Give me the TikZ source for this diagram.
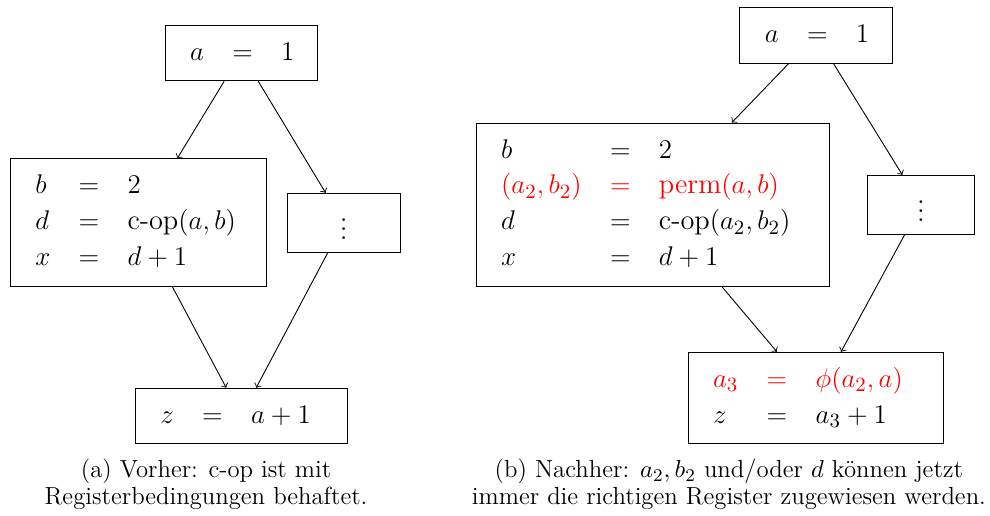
\documentclass[tikz,border=0pt]{standalone}
\usepackage{amsmath}
\usepackage{tikz}
\usetikzlibrary{positioning}
\setlength{\arraycolsep}{6.3pt}

\begin{document}
\begin{tikzpicture}[
    blk/.style={draw, align=left, inner xsep=4.8pt, inner ysep=4.35pt,
                font=\fontsize{12.6}{16}\selectfont},
    dotblk/.style={draw, minimum height=0.92cm,
                font=\fontsize{12.6}{16}\selectfont},
    flow/.style={->},
    captxt/.style={align=center, font=\fontsize{11}{12}\selectfont}
  ]
  \useasboundingbox (0,0) rectangle (15.47,-8.05);

  % (a) vorher
  \node[blk, text width=2.04cm] (a1) at (3.77,-0.83)
    {$\begin{array}{lcl} a & = & 1 \end{array}$};
  \node[blk, text width=3.66cm] (b1) at (2.16,-3.48) {$\begin{array}{lcl}
      b & = & 2\\
      d & = & \text{c-op}(a,b)\\
      x & = & d+1 \end{array}$};
  \node[dotblk, minimum width=1.77cm] (v1) at (5.37,-3.48) {$\vdots$};
  \node[blk, text width=2.97cm] (z1) at (3.77,-6.5)
    {$\begin{array}{lcl} z & = & a+1 \end{array}$};

  \draw[flow] (a1) -- (b1);
  \draw[flow] (a1) -- (v1);
  \draw[flow] (b1) -- (z1);
  \draw[flow] (v1) -- (z1);

  \node[captxt] (capa) at (3.22,-7.57)
    {(a) Vorher: c-op ist mit\\Registerbedingungen behaftet.};

  % (b) nachher
  \node[blk, text width=2.04cm] (a2) at (12.75,-0.55)
    {$\begin{array}{lcl} a & = & 1 \end{array}$};
  \node[blk, text width=5.18cm] (b2) at (10.2,-3.2) {$\begin{array}{lcl}
      b & = & 2\\
      \color{red}(a_2,b_2) & \color{red}= & \color{red}\text{perm}(a,b)\\
      d & = & \text{c-op}(a_2,b_2)\\
      x & = & d+1 \end{array}$};
  \node[dotblk, minimum width=1.66cm] (v2) at (14.39,-3.2) {$\vdots$};
  \node[blk, text width=3.66cm] (z2) at (12.75,-6.22) {$\begin{array}{lcl}
      \color{red}a_3 & \color{red}= & \color{red}\phi(a_2,a)\\
      z & = & a_3+1 \end{array}$};

  \draw[flow] (a2) -- (b2);
  \draw[flow] (a2) -- (v2);
  \draw[flow] (b2) -- (z2);
  \draw[flow] (v2) -- (z2);

  \node[captxt] (capb) at (11.39,-7.57)
    {(b) Nachher: $a_2, b_2$ und/oder $d$ können jetzt\\immer die richtigen Register zugewiesen werden.};
\end{tikzpicture}
\end{document}
